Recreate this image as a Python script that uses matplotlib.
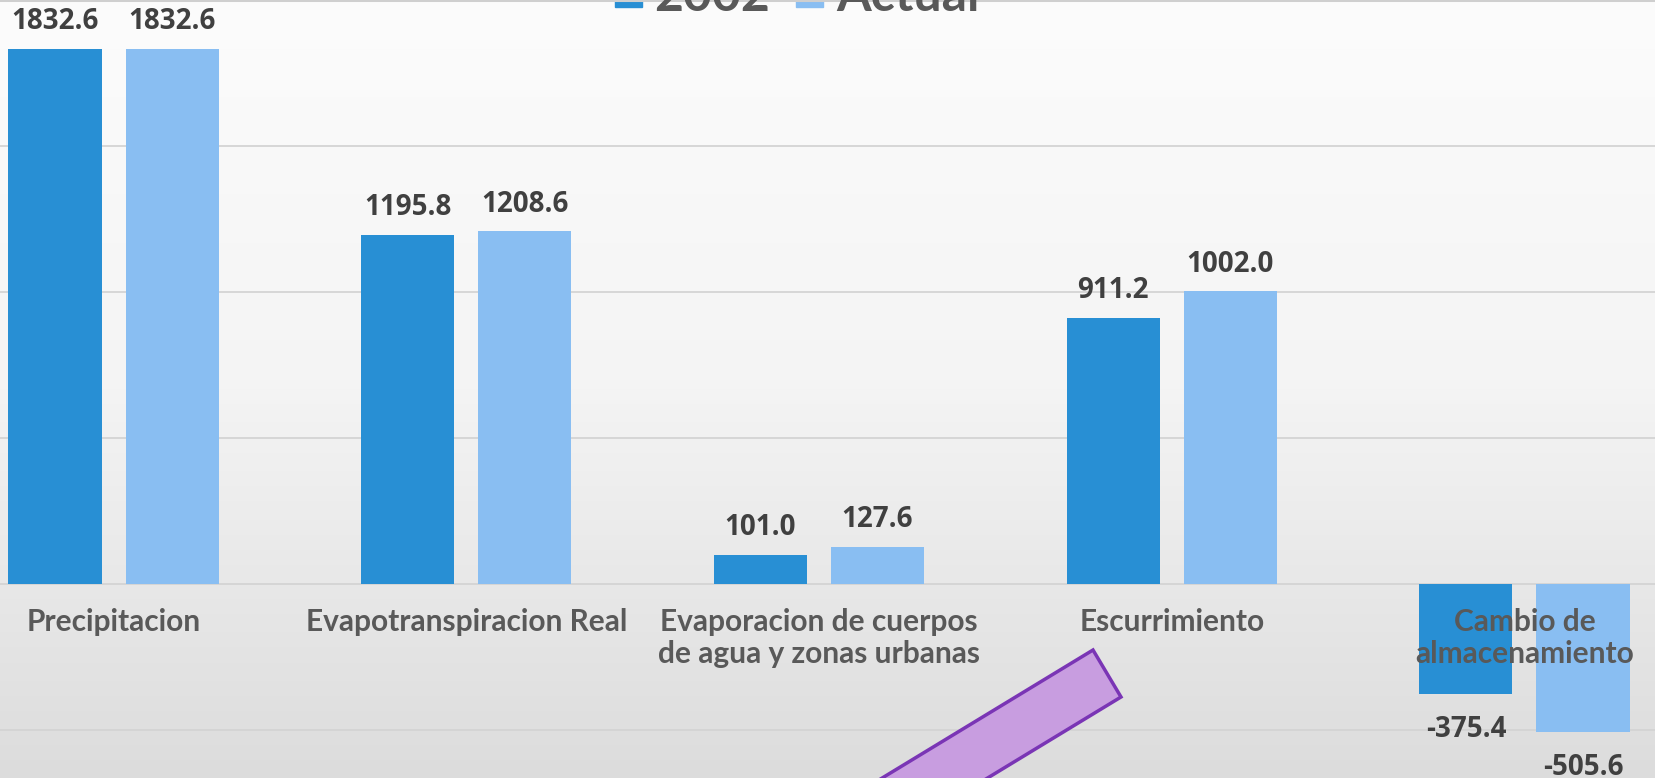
import matplotlib.pyplot as plt
import matplotlib.patches as mpatches
import numpy as np

# datos del balance hidrico
categorias = ['Precipitacion', 'Evapotranspiracion Real',
              'Evaporacion de cuerpos\nde agua y zonas urbanas',
              'Escurrimiento', 'Cambio de\nalmacenamiento']
v2002 = [1832.6, 1195.8, 101.0, 911.2, -375.4]
vactual = [1832.6, 1208.6, 127.6, 1002.0, -505.6]
series = ['2002', 'Actual']

azul = '#288fd4'
celeste = '#89bef2'

W, H = 1656, 778
fig = plt.figure(figsize=(W/100, H/100), dpi=100)

# fondo degradado
bg = fig.add_axes([0, 0, 1, 1], zorder=-2)
grad = np.linspace(0, 1, 256).reshape(-1, 1)
bg.imshow(grad, aspect='auto', cmap=plt.matplotlib.colors.LinearSegmentedColormap.from_list(
    'g', ['#fcfcfc', '#f4f4f4', '#dcdcdc']), extent=[0, 1, 0, 1], origin='upper')
bg.axis('off')

ax = fig.add_axes([0, 0, 1, 1])
ax.set_facecolor('none')
x = np.arange(len(categorias))
ancho = 0.264
d = 0.166
b1 = ax.bar(x - d, v2002, ancho, color=azul, zorder=3)
b2 = ax.bar(x + d, vactual, ancho, color=celeste, zorder=3)

ax.set_xlim(-0.322, 4.373)
ax.set_ylim(-664, 2000)
ax.set_yticks([-500, 0, 500, 1000, 1500, 2000])
ax.grid(axis='y', color='#d4d4d4', linewidth=1.3, zorder=0)
ax.set_xticks([])
ax.tick_params(left=False, labelleft=False)
for s in ax.spines.values():
    s.set_visible(False)

# etiquetas de datos
for barras, vals in [(b1, v2002), (b2, vactual)]:
    for r, v in zip(barras, vals):
        cx = r.get_x() + r.get_width()/2
        if v >= 0:
            ax.annotate(f'{v:.1f}', (cx, v), xytext=(0, 9), textcoords='offset points',
                        ha='center', va='bottom', fontsize=20, fontweight='bold',
                        family='Open Sans', color='#404040', zorder=5)
        else:
            ax.annotate(f'{v:.1f}', (cx, v), xytext=(0, -15), textcoords='offset points',
                        ha='center', va='top', fontsize=20, fontweight='bold',
                        family='Open Sans', color='#404040', zorder=5)

# etiquetas de categorias
for i, c in enumerate(categorias):
    ax.annotate(c, (i, 0), xytext=(0, -17), textcoords='offset points',
                ha='center', va='top', fontsize=21.5, fontweight='bold', family='Lato',
                color='#595959', multialignment='center', linespacing=1.2, zorder=6)

# leyenda (recortada arriba)
fig.patches.append(mpatches.Rectangle((615/W, 1 - 7/H), 27/W, 40/H, color=azul,
                                      transform=fig.transFigure, figure=fig))
fig.patches.append(mpatches.Rectangle((796/W, 1 - 7/H), 27/W, 40/H, color=celeste,
                                      transform=fig.transFigure, figure=fig))
fig.text(654/W, 1 - 11/H, series[0], fontsize=36, fontweight='bold', family='Lato',
         color='#595959', va='baseline', ha='left')
fig.text(836/W, 1 - 11/H, series[1], fontsize=36, fontweight='bold', family='Lato',
         color='#595959', va='baseline', ha='left')
fig.add_artist(plt.Line2D([0, 1], [1 - 1/H, 1 - 1/H], color='#cfcfcf', linewidth=1.5,
                          transform=fig.transFigure))

# forma morada decorativa
pts = [(1093, 650), (1121, 697), (1121 - 420, 697 + 255), (1093 - 420, 650 + 255)]
poly = mpatches.Polygon([(px/W, 1 - py/H) for px, py in pts], closed=True,
                        facecolor='#c89de0', edgecolor='#7a35b5', linewidth=2.5,
                        transform=fig.transFigure, zorder=10)
fig.patches.append(poly)

fig.savefig('out.png', dpi=100)
